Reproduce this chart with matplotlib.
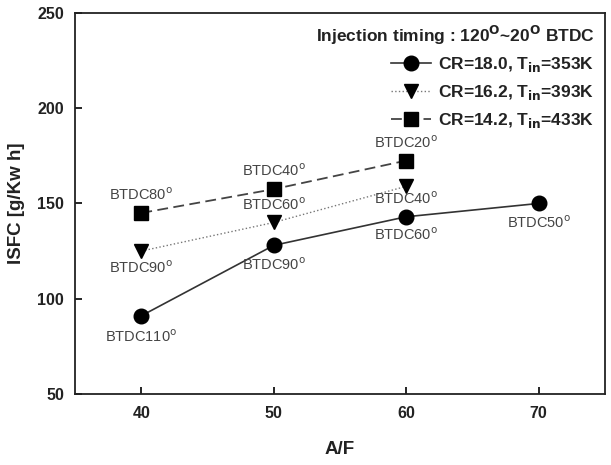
"""
ISFC vs A/F for three compression ratio / intake temperature cases
"""
import matplotlib.pyplot as plt

plt.rcParams['font.family'] = ['Liberation Sans', 'DejaVu Sans']

af_cr18 = [40, 50, 60, 70]
isfc_cr18 = [91, 128, 143, 150]
timing_cr18 = ["110", "90", "60", "50"]

af_cr16 = [40, 50, 60]
isfc_cr16 = [125, 140, 159]
timing_cr16 = ["90", "60", "40"]

af_cr14 = [40, 50, 60]
isfc_cr14 = [145, 157.5, 172.5]
timing_cr14 = ["80", "40", "20"]

series_labels = [
    r"CR=18.0, T$_{\mathbf{in}}$=353K",
    r"CR=16.2, T$_{\mathbf{in}}$=393K",
    r"CR=14.2, T$_{\mathbf{in}}$=433K",
]


def label_points(axis, xs, ys, timings, offsets):
    """Write the injection timing next to each point"""
    for x, y, t, dy in zip(xs, ys, timings, offsets):
        axis.annotate(
            "BTDC" + t + r"$^{\mathrm{o}}$",
            (x, y), xytext=(0, dy), textcoords="offset points",
            ha="center", va="center", fontsize=10.5, color="#444444"
        )


def plot():
    """Draw the chart"""
    fig, axis = plt.subplots(figsize=(6.11, 4.65), dpi=100)
    fig.subplots_adjust(left=0.123, right=0.99, top=0.972, bottom=0.153)

    axis.plot(af_cr18, isfc_cr18, color="#333333", lw=1.2, marker="o",
              ms=10.5, mfc="black", mec="black", label=series_labels[0])
    axis.plot(af_cr16, isfc_cr16, color="#777777", lw=1.0, ls=":",
              marker="v", ms=10.5, mfc="black", mec="black",
              label=series_labels[1])
    axis.plot(af_cr14, isfc_cr14, color="#444444", lw=1.3, ls=(0, (6, 3)),
              marker="s", ms=9.5, mfc="black", mec="black",
              label=series_labels[2])

    label_points(axis, af_cr18, isfc_cr18, timing_cr18, [-15, -14, -13, -14])
    label_points(axis, af_cr16, isfc_cr16, timing_cr16, [-12, 13, -9])
    label_points(axis, af_cr14, isfc_cr14, timing_cr14, [13, 13, 13])

    axis.set_xlim(35, 75)
    axis.set_ylim(50, 250)
    axis.set_xticks([40, 50, 60, 70])
    axis.set_yticks([50, 100, 150, 200, 250])
    axis.tick_params(direction="in", length=5, width=1.2, labelsize=11.5,
                     labelcolor="#222222")
    axis.tick_params(axis="x", pad=9)
    axis.tick_params(axis="y", pad=8)
    for lab in axis.get_xticklabels() + axis.get_yticklabels():
        lab.set_fontweight("bold")
    for spine in axis.spines.values():
        spine.set_linewidth(1.3)
        spine.set_color("#222222")

    axis.set_xlabel("A/F", fontsize=13.5, fontweight="bold", color="#222222",
                    labelpad=14)
    axis.set_ylabel("ISFC [g/Kw h]", fontsize=13.5, fontweight="bold",
                    color="#222222", labelpad=9)

    leg = axis.legend(
        loc="upper right", frameon=False, fontsize=12.5,
        title=r"Injection timing : 120$^{\mathbf{O}}$~20$^{\mathbf{O}}$ BTDC",
        title_fontproperties={"weight": "bold", "size": 12.5},
        alignment="right", handlelength=2.3, labelspacing=0.5,
        borderaxespad=0.2, handletextpad=0.4
    )
    for text in leg.get_texts():
        text.set_fontweight("bold")
        text.set_color("#222222")
    leg.get_title().set_color("#222222")

    plt.savefig("out.png", dpi=100)


if __name__ == '__main__':
    plot()
